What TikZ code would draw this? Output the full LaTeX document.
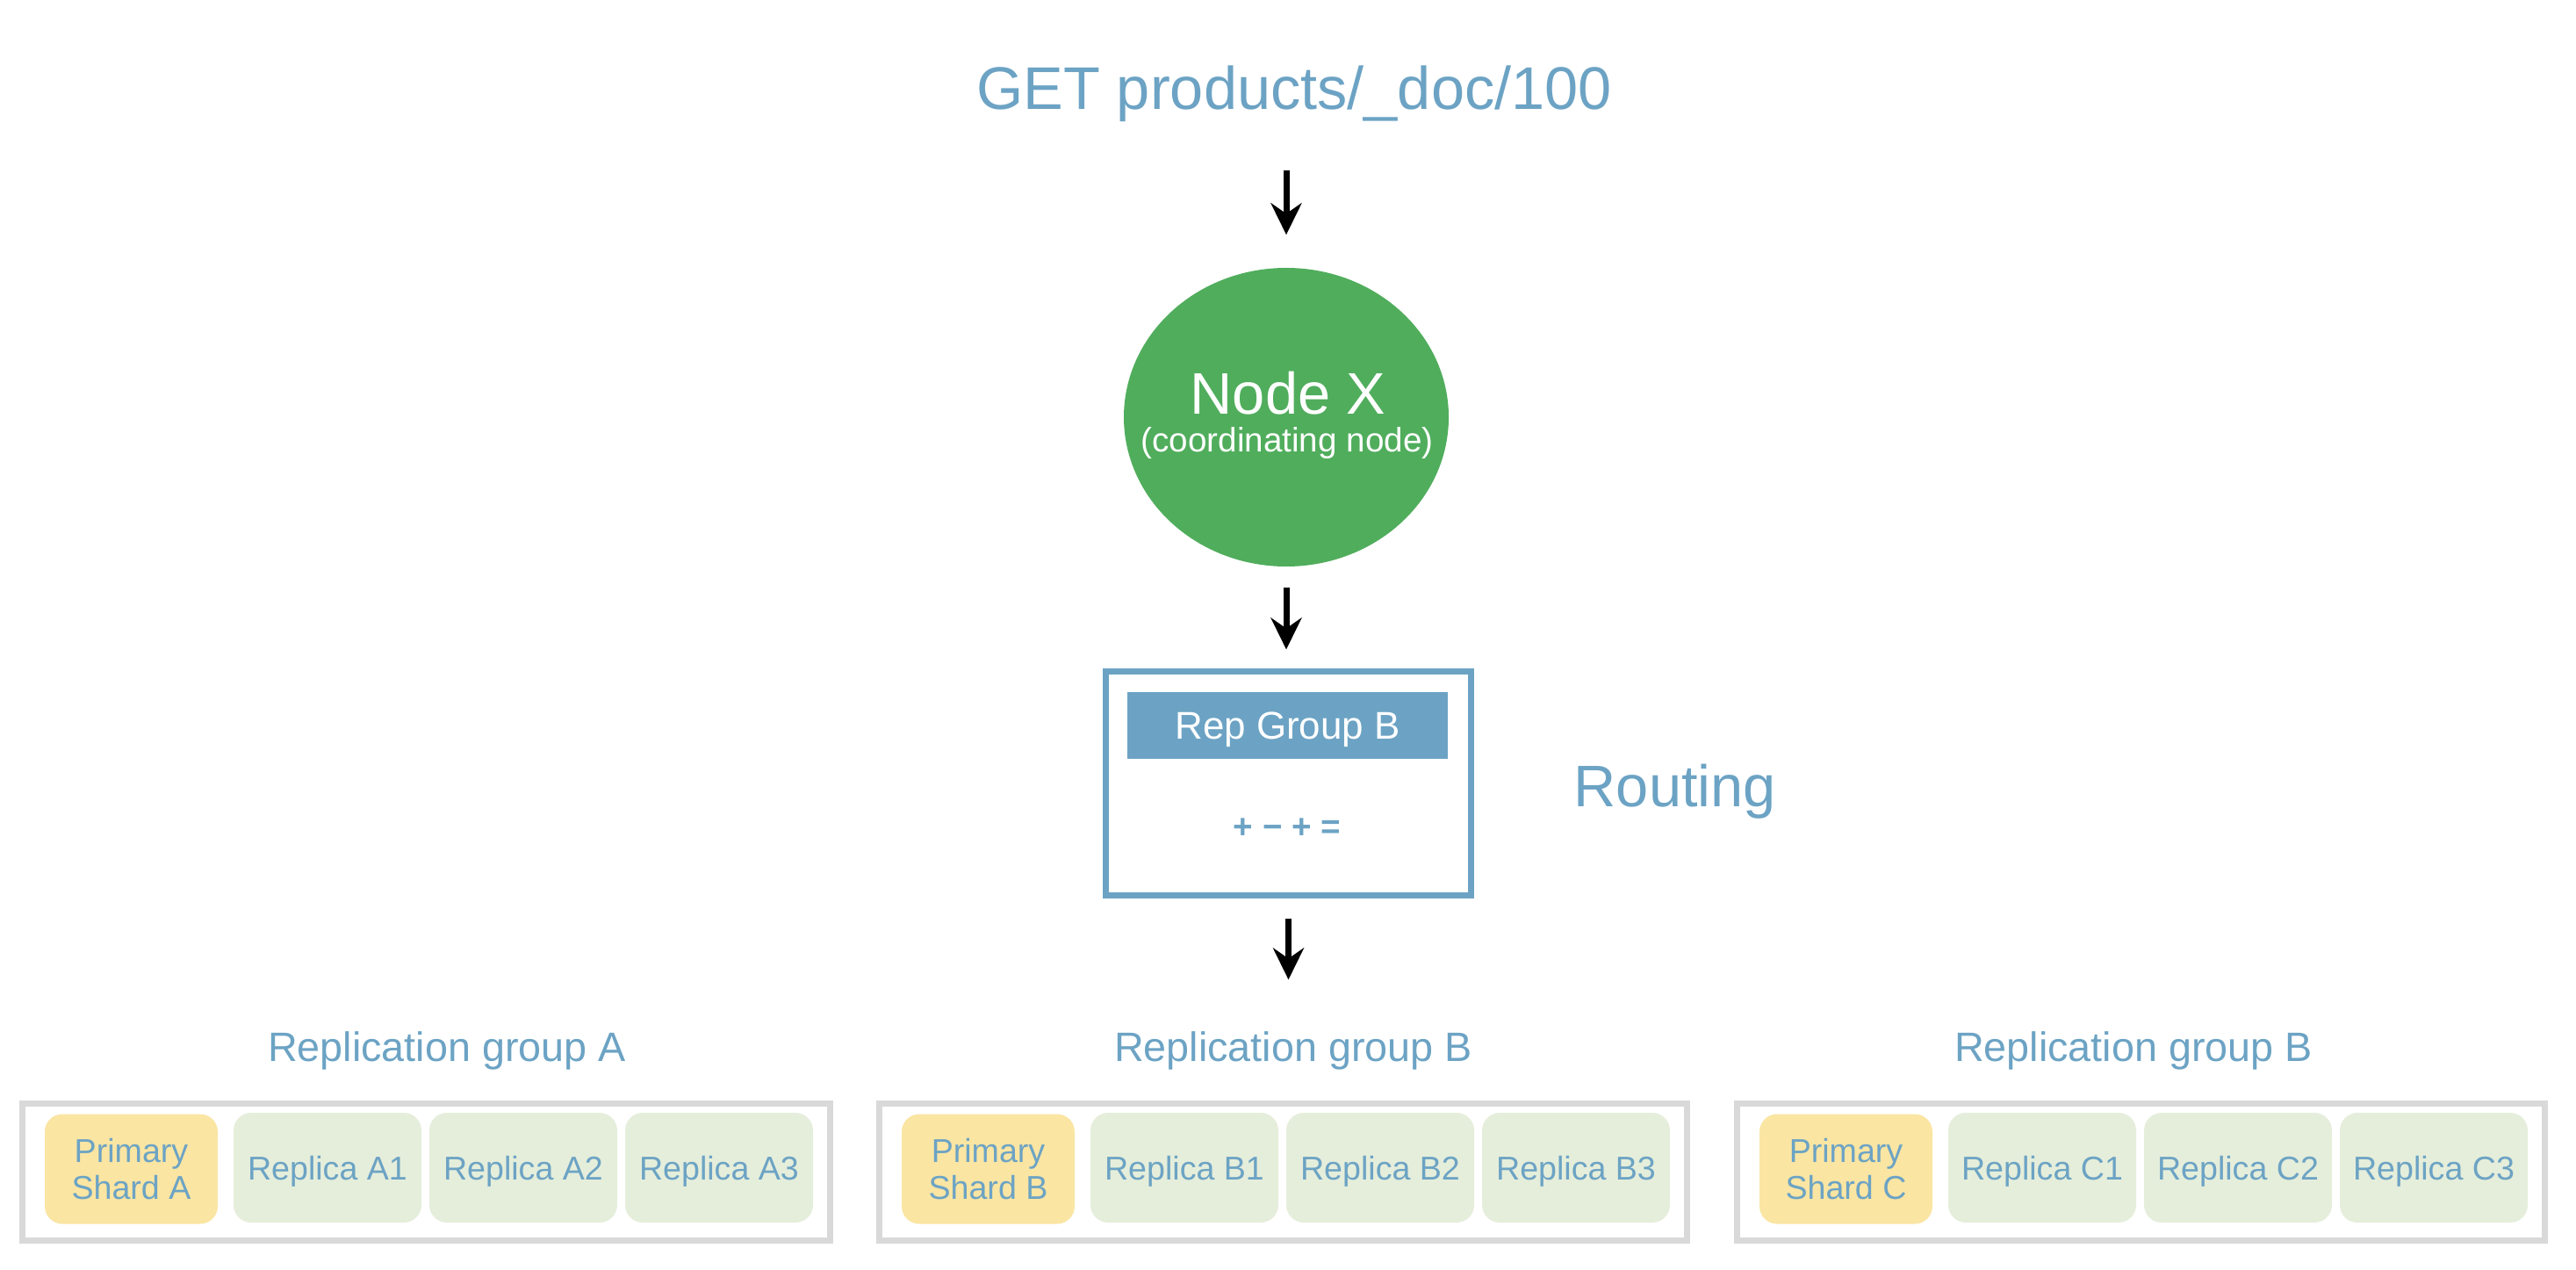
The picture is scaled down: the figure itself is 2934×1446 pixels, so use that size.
\documentclass[tikz,border=0pt]{standalone}
\usepackage{fontspec}
\setmainfont{Liberation Sans}
\usetikzlibrary{shapes.geometric,arrows.meta,calc}
\definecolor{tblue}{HTML}{6CA3C4}
\definecolor{ngreen}{HTML}{50AD5C}
\definecolor{pyellow}{HTML}{FAE5A3}
\definecolor{rgreen}{HTML}{E5EEDB}
\definecolor{bgray}{HTML}{D9D9D9}
\newcommand{\myfs}[1]{\fontsize{#1}{#1}\selectfont}
\begin{document}
\begin{tikzpicture}[x=0.1mm,y=-0.1mm,
  arr/.style={line width=0.7mm,-{Stealth[length=3.6mm,width=3.5mm,inset=1.2mm]}},
  grpbox/.style={draw=bgray,line width=0.7mm,minimum width=92mm,minimum height=15.6mm,inner sep=0},
  shard/.style={rounded corners=2mm,minimum height=12.5mm,inner sep=0,text=tblue,align=center,
                font=\fontsize{10.7}{11.7}\selectfont},
  primary/.style={shard,fill=pyellow,minimum width=19.7mm},
  replica/.style={shard,fill=rgreen,minimum width=21.4mm,text height=7.7pt,text depth=0pt},
  grplabel/.style={text=tblue,font=\myfs{13.3},anchor=base,inner sep=0},
  whitetext/.style={text=white,inner sep=0,anchor=base},
]
\useasboundingbox (0,0) rectangle (2934,1446);

% title
\node[text=tblue,font=\myfs{19.5},anchor=base,inner sep=0] (title) at (1474,125) {GET products/\_doc/100};

% coordinating node
\node[ellipse,fill=ngreen,minimum width=37mm,minimum height=34mm,inner sep=0] (nodex) at (1465,475) {};
\node[whitetext,font=\myfs{19}] (nxname) at (1467,472) {Node X};
\node[whitetext,font=\myfs{11}] (nxrole) at (1466,515) {(coordinating node)};

% routing box
\node[draw=tblue,line width=0.7mm,minimum width=41.6mm,minimum height=25.5mm,inner sep=0] (route) at (1467.5,892) {};
\node[fill=tblue,minimum width=36.5mm,minimum height=7.6mm,inner sep=0,text=white,font=\myfs{12.5},
      text height=8.9pt,text depth=0pt] (hdr) at (1466.5,826) {Rep Group B};
\node[text=tblue,font=\bfseries\myfs{11},inner sep=0] (ops) at (1466,943) {+ − + =};
\node[text=tblue,font=\myfs{19},anchor=base west,inner sep=0] (routing) at (1792,918) {Routing};

% replication groups
\foreach \x/\g/\lx/\lg in {22/A/509/A, 998/B/1473/B, 1975/C/2430/B}{
  \node[grplabel] (lbl\g) at (\lx,1208) {Replication group \lg};
  \node[grpbox] (grp\g) at (\x+463.5,1334.5) {};
  \node[primary] (prim\g) at (\x+127.5,1331) {Primary\\Shard \g};
  \node[replica] (rep\g1) at (\x+351,1329.5) {Replica \g1};
  \node[replica] (rep\g2) at (\x+574,1329.5) {Replica \g2};
  \node[replica] (rep\g3) at (\x+797,1329.5) {Replica \g3};
}

% arrows
\draw[arr,shorten <=5.4mm,shorten >=3.7mm] (nodex.north |- title.south) -- (nodex.north);
\draw[arr,shorten <=2.3mm,shorten >=2.15mm] (nodex.south) -- (nodex.south |- route.north);
\draw[arr,shorten <=2.25mm,shorten >=5.8mm] (route.south) -- (route.south |- lblB.north);
\end{tikzpicture}
\end{document}
